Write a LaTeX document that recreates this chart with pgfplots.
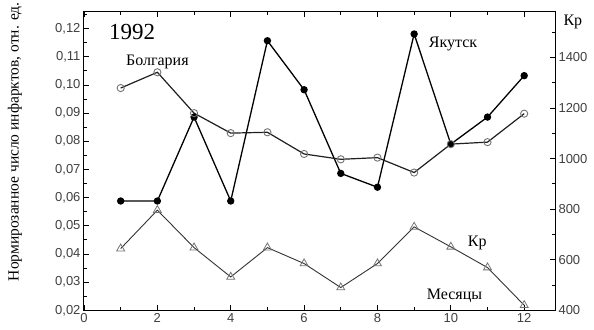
\documentclass[border=0pt]{standalone}
\usepackage{fontspec}
\setmainfont{Liberation Serif}
\setsansfont{Liberation Sans}
\usepackage{pgfplots}
\pgfplotsset{compat=1.18}
\begin{document}
\begin{tikzpicture}
\path[use as bounding box] (-84pt,-19pt) rectangle (510pt,310.3pt);
\begin{axis}[
  scale only axis, width=471pt, height=298.3pt,
  at={(0,0)}, anchor=south west,
  xmin=0, xmax=12.84, ymin=0.02, ymax=0.1259,
  xtick={0,2,...,12}, minor xtick={1,3,...,11},
  ytick={0.02,0.03,...,0.125}, minor ytick={0.025,0.035,...,0.125},
  xtick pos=both, ytick pos=left,
  major tick length=5pt, minor tick length=3pt,
  tick style={black, line width=0.8pt},
  axis line style={line width=1pt},
  ticklabel style={font=\sffamily\fontsize{13}{15}\selectfont, text=black!75},
  /pgf/number format/assume math mode=true,
  yticklabel style={/pgf/number format/.cd, fixed, fixed zerofill, precision=2, use comma},
  xticklabel style={/pgf/number format/.cd, fixed},
  scaled y ticks=false,
  clip=false,
]
\addplot[black, line width=1.3pt, mark=*, mark size=3pt] coordinates {
 (1,0.0588) (2,0.0588) (3,0.0886) (4,0.0588) (5,0.1157) (6,0.0983)
 (7,0.0686) (8,0.0637) (9,0.1181) (10,0.0790) (11,0.0886) (12,0.1033)};
\addplot[black!88, line width=1.2pt, mark=o, mark size=3.6pt, mark options={fill=white, draw=black!55, line width=0.9pt}] coordinates {
 (1,0.0989) (2,0.1045) (3,0.0900) (4,0.0829) (5,0.0832) (6,0.0755)
 (7,0.0736) (8,0.0742) (9,0.0689) (10,0.0790) (11,0.0797) (12,0.0898)};
\node[font=\fontsize{23}{25}\selectfont] at (axis cs:1.31,0.1187) {1992};
\node[font=\fontsize{16}{18}\selectfont] at (axis cs:2.0,0.1080) {Болгария};
\node[font=\fontsize{16}{18}\selectfont] at (axis cs:10.06,0.1144) {Якутск};
\node[font=\fontsize{16}{18}\selectfont] at (axis cs:10.72,0.0438) {Кр};
\node[font=\fontsize{16}{18}\selectfont] at (axis cs:10.1,0.0253) {Месяцы};
\node[rotate=90, font=\fontsize{15.5}{17}\selectfont] at ([xshift=-69pt]rel axis cs:0,0.565) {Нормирозанное число инфарктов, отн. ед.};
\end{axis}
\begin{axis}[
  scale only axis, width=471pt, height=298.3pt,
  at={(0,0)}, anchor=south west,
  xmin=0, xmax=12.84, ymin=400, ymax=1580,
  axis x line=none, axis y line*=right,
  ytick={400,600,...,1400}, minor ytick={500,700,...,1500},
  major tick length=5pt, minor tick length=3pt,
  tick style={black, line width=0.8pt},
  axis line style={line width=1pt, -},
  ticklabel style={font=\sffamily\fontsize{13}{15}\selectfont, text=black!75},
  /pgf/number format/assume math mode=true,
  yticklabel style={/pgf/number format/.cd, fixed, 1000 sep={}},
  scaled y ticks=false,
  clip=false,
]
\addplot[black!80, line width=0.9pt, mark=triangle, mark size=4.6pt, mark options={fill=white, draw=black!55, line width=0.8pt}] coordinates {
 (1,644) (2,796) (3,648) (4,532) (5,648) (6,585)
 (7,490) (8,585) (9,730) (10,651) (11,569) (12,420)};
\node[anchor=west, font=\fontsize{16}{18}\selectfont] at ([xshift=5pt]rel axis cs:1,0.9655) {Кр};
\end{axis}
\end{tikzpicture}
\end{document}
